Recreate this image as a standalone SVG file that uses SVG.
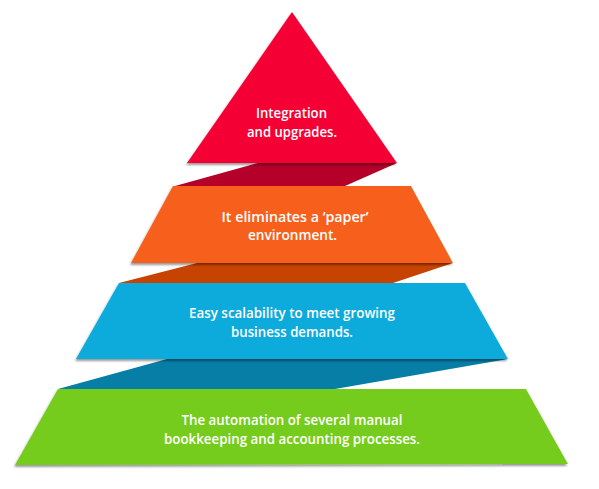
<svg xmlns="http://www.w3.org/2000/svg" width="599" height="489" viewBox="0 0 599 489">
  <defs>
    <filter id="sh" x="-10%" y="-10%" width="120%" height="130%">
      <feDropShadow dx="-1" dy="2" stdDeviation="1.3" flood-color="#000" flood-opacity="0.4"/>
    </filter>
  </defs>
  <style>
    .lbl { font-family: "Open Sans", "Liberation Sans", sans-serif; font-size: 14.5px; font-weight: 600; fill: #ffffff; text-anchor: middle; }
    .tier { filter: url(#sh); }
  </style>
  <rect width="599" height="489" fill="#ffffff"/>
  <g id="folds">
    <polygon points="258,163 397,163 345,186 175,186" fill="#B5002A"/>
    <polygon points="197,263 453,263 393,283 119,283" fill="#C64302"/>
    <polygon points="167,359 508,359 335,389 58,389" fill="#067EA6"/>
  </g>
  <g id="tier4">
    <polygon class="tier" points="58,389 526,389 568,464 15,465" fill="#76CC1F"/>
    <text class="lbl" x="292" y="425" textLength="221" lengthAdjust="spacingAndGlyphs">The automation of several manual</text>
    <text class="lbl" x="292" y="444" textLength="256" lengthAdjust="spacingAndGlyphs">bookkeeping and accounting processes.</text>
  </g>
  <g id="tier3">
    <polygon class="tier" points="119,283 465,283 508,359 76,359" fill="#0AAADC"/>
    <text class="lbl" x="292" y="318" textLength="206" lengthAdjust="spacingAndGlyphs">Easy scalability to meet growing</text>
    <text class="lbl" x="292" y="337" textLength="122" lengthAdjust="spacingAndGlyphs">business demands.</text>
  </g>
  <g id="tier2">
    <polygon class="tier" points="173,186 411,186 453,263 131,263" fill="#F7611A"/>
    <text class="lbl" x="295" y="222" textLength="147" lengthAdjust="spacingAndGlyphs">It eliminates a ‘paper’</text>
    <text class="lbl" x="292.5" y="240" textLength="89" lengthAdjust="spacingAndGlyphs">environment.</text>
  </g>
  <g id="tier1">
    <polygon class="tier" points="292,12 397,163 187,163" fill="#F50535"/>
    <text class="lbl" x="291.5" y="118" textLength="71" lengthAdjust="spacingAndGlyphs">Integration</text>
    <text class="lbl" x="292" y="137" textLength="90" lengthAdjust="spacingAndGlyphs">and upgrades.</text>
  </g>
</svg>
